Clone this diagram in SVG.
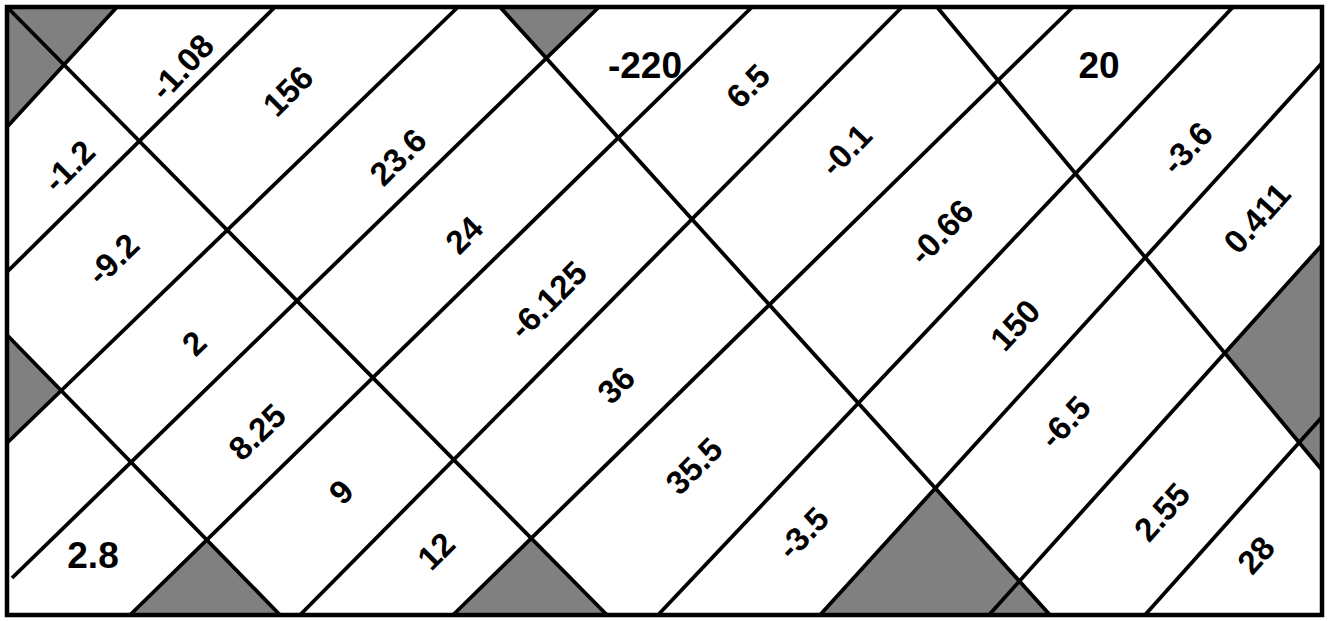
<svg xmlns="http://www.w3.org/2000/svg" width="1328" height="621" viewBox="0 0 1328 621">
<style>
.g{fill:#808080;stroke:none}
.ln{stroke:#000;stroke-width:3.8;fill:none;stroke-linecap:butt}
.bd{stroke:#000;stroke-width:4.5;fill:none}
.t{font-family:"Liberation Sans",Arial,sans-serif;font-weight:bold;font-size:33px;fill:#000;text-anchor:middle;dominant-baseline:central}
.h{font-size:37px}
</style>
<rect x="0" y="0" width="1328" height="621" fill="#fff"/>
<g id="shaded">
<polygon class="g" points="7,7 117,7 7,127"/>
<polygon class="g" points="500,7 599,7 546,58"/>
<polygon class="g" points="7,335 61,391 7,443"/>
<polygon class="g" points="130,615 207,541 280,615"/>
<polygon class="g" points="453,615 531,538 607,615"/>
<polygon class="g" points="820,615 935,488 1050,615"/>
<polygon class="g" points="1322,245 1225,353 1322,470"/>
</g>
<g id="lines">
<line class="ln" x1="7" y1="7" x2="607" y2="615"/>
<line class="ln" x1="7" y1="335" x2="280" y2="615"/>
<line class="ln" x1="500" y1="7" x2="1050" y2="615"/>
<line class="ln" x1="937" y1="7" x2="1322" y2="470"/>
<line class="ln" x1="117" y1="7" x2="7" y2="127"/>
<line class="ln" x1="275" y1="7" x2="7" y2="272"/>
<line class="ln" x1="458" y1="7" x2="7" y2="443"/>
<line class="ln" x1="599" y1="7" x2="12" y2="578"/>
<line class="ln" x1="752" y1="7" x2="130" y2="615"/>
<line class="ln" x1="902" y1="7" x2="300" y2="615"/>
<line class="ln" x1="1073" y1="7" x2="453" y2="615"/>
<line class="ln" x1="1233" y1="7" x2="658" y2="615"/>
<line class="ln" x1="1322" y1="63" x2="820" y2="615"/>
<line class="ln" x1="1322" y1="245" x2="989" y2="615"/>
<line class="ln" x1="1322" y1="417" x2="1145" y2="615"/>
<rect class="bd" x="7" y="7" width="1315" height="608"/>
</g>
<g id="labels">
<text class="t" transform="translate(182,67) rotate(-47)">-1.08</text>
<text class="t" transform="translate(288,91) rotate(-45)">156</text>
<text class="t h" x="645" y="65">-220</text>
<text class="t" transform="translate(748,86) rotate(-45)">6.5</text>
<text class="t h" x="1099" y="65">20</text>
<text class="t" transform="translate(69,166) rotate(-45)">-1.2</text>
<text class="t" transform="translate(398,157) rotate(-45)">23.6</text>
<text class="t" transform="translate(846,150) rotate(-46)">-0.1</text>
<text class="t" transform="translate(1187,148) rotate(-47)">-3.6</text>
<text class="t" transform="translate(1257,218) rotate(-48)">0.411</text>
<text class="t" transform="translate(113,259) rotate(-44)">-9.2</text>
<text class="t" transform="translate(464,235) rotate(-45)">24</text>
<text class="t" transform="translate(941,232) rotate(-46)">-0.66</text>
<text class="t" transform="translate(548,300) rotate(-45)">-6.125</text>
<text class="t" transform="translate(194,343) rotate(-44)">2</text>
<text class="t" transform="translate(1015,325) rotate(-47)">150</text>
<text class="t" transform="translate(616,385) rotate(-45)">36</text>
<text class="t" transform="translate(257,432) rotate(-44)">8.25</text>
<text class="t" transform="translate(1065,422) rotate(-47)">-6.5</text>
<text class="t" transform="translate(341,492) rotate(-45)">9</text>
<text class="t" transform="translate(694,466) rotate(-45)">35.5</text>
<text class="t h" x="93" y="555">2.8</text>
<text class="t" transform="translate(436,551) rotate(-45)">12</text>
<text class="t" transform="translate(803,533) rotate(-46)">-3.5</text>
<text class="t" transform="translate(1162,512) rotate(-48)">2.55</text>
<text class="t" transform="translate(1256,555) rotate(-48)">28</text>
</g>
</svg>
